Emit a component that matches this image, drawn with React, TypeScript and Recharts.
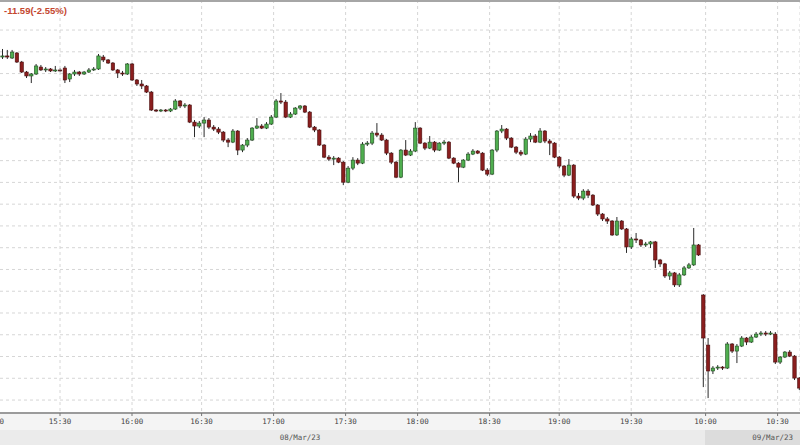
import React from "react";
import { ComposedChart, Bar, XAxis, YAxis, CartesianGrid } from "recharts";

// 2-minute candles, 08/Mar/23 session (from 15:06)
const day1Open = [
  467.52, 467.62, 467.43, 467.89, 467.06, 466.14, 465.78, 465.96, 466.6, 466.33,
  466.42, 466.24, 466.33, 466.51, 465.5, 465.96, 466.14, 465.96, 466.14, 466.33,
  466.42, 467.52, 467.25, 466.97, 466.33, 466.05, 465.96, 466.88, 465.41, 465.04,
  464.86, 464.3, 462.65, 462.56, 462.65, 462.56, 462.74, 463.48, 463.02, 463.11,
  461.54, 461.18, 461.45, 461.73, 461.08, 460.9, 460.62, 459.89, 459.7, 460.72,
  458.97, 459.43, 459.89, 460.99, 461.18, 460.99, 461.36, 462.0, 463.48, 463.38,
  462.0, 462.28, 462.83, 463.02, 462.46, 461.08, 460.81, 459.43, 458.32, 458.14,
  458.23, 457.86, 456.02, 457.31, 458.05, 457.77, 459.52, 459.61, 460.53, 460.35,
  459.89, 458.69, 457.86, 456.48, 458.97, 458.51, 458.88, 460.99, 459.61, 459.15,
  459.7, 458.97, 459.61, 459.7, 458.23, 457.77, 457.4, 458.05, 458.6, 458.88,
  458.69, 457.13, 456.76, 458.97, 460.72, 460.9, 460.07, 459.24, 458.78, 458.6,
  459.98, 460.26, 459.7, 460.72, 459.8, 459.61, 458.32, 457.5, 456.67, 457.59,
  454.74, 454.56, 455.2, 454.83, 453.92, 453.09, 452.64, 452.45, 451.17, 452.45,
  451.72, 450.07, 450.8, 450.71, 450.25, 450.34, 450.53, 448.87, 448.51, 447.4,
  447.68, 446.58, 447.5, 448.14, 448.42, 450.25,
];
const day1High = [
  468.26, 468.17, 468.17, 467.98, 467.16, 466.24, 466.05, 466.88, 466.79, 466.6,
  466.51, 466.7, 466.51, 466.7, 466.05, 466.33, 466.24, 466.24, 466.51, 466.6,
  467.8, 467.71, 467.34, 467.06, 466.42, 466.24, 466.97, 466.97, 465.5, 465.41,
  464.95, 464.4, 462.74, 462.74, 462.74, 462.83, 463.66, 463.57, 463.29, 463.2,
  461.73, 461.64, 462.0, 461.91, 461.27, 461.08, 460.72, 460.07, 460.9, 460.81,
  459.52, 460.07, 461.08, 461.91, 461.36, 461.54, 462.19, 463.66, 464.21, 463.57,
  462.46, 462.92, 463.11, 463.11, 462.56, 461.18, 460.9, 459.52, 458.51, 458.42,
  458.32, 457.96, 457.5, 458.32, 458.23, 459.7, 459.8, 460.72, 461.45, 460.53,
  459.98, 458.78, 457.96, 459.06, 459.89, 459.06, 461.54, 461.08, 459.7, 460.26,
  459.8, 459.7, 459.89, 459.8, 458.32, 457.86, 458.14, 458.78, 459.06, 458.97,
  458.78, 457.31, 459.06, 460.81, 461.27, 460.99, 460.16, 459.34, 458.97, 460.16,
  460.53, 460.44, 460.99, 460.81, 459.98, 459.7, 458.42, 457.59, 458.14, 457.68,
  455.02, 455.38, 455.38, 454.92, 454.01, 453.18, 452.82, 452.54, 452.82, 452.54,
  451.81, 450.98, 451.35, 450.8, 450.53, 450.62, 450.62, 448.97, 448.6, 447.86,
  447.77, 447.68, 448.32, 448.6, 451.81, 450.34,
];
const day1Low = [
  467.34, 467.34, 467.34, 466.97, 466.05, 465.59, 465.13, 465.87, 466.24, 466.14,
  466.14, 466.14, 466.14, 465.13, 465.22, 465.78, 465.78, 465.87, 466.05, 466.24,
  466.33, 467.06, 466.88, 466.24, 465.59, 465.78, 465.87, 465.32, 464.86, 464.58,
  464.21, 462.56, 462.46, 462.46, 462.46, 462.46, 462.65, 462.83, 462.83, 461.45,
  460.16, 460.99, 460.16, 460.9, 460.72, 460.44, 459.7, 459.24, 459.61, 458.51,
  458.78, 459.24, 459.8, 460.9, 460.9, 460.9, 461.27, 461.91, 463.2, 461.91,
  461.91, 462.19, 462.65, 462.37, 460.99, 460.62, 459.34, 458.23, 457.96, 457.59,
  457.77, 455.75, 455.93, 457.13, 457.59, 457.68, 459.34, 459.43, 460.16, 459.8,
  458.51, 457.68, 456.39, 456.39, 458.42, 458.42, 458.78, 459.52, 458.97, 459.06,
  458.78, 458.88, 459.43, 458.14, 457.68, 456.02, 457.31, 457.96, 458.51, 458.6,
  457.04, 456.58, 456.67, 458.78, 460.53, 459.89, 459.15, 458.6, 458.42, 458.51,
  459.7, 459.61, 459.61, 459.61, 458.51, 458.23, 457.31, 456.48, 456.58, 454.56,
  454.37, 454.37, 454.56, 453.83, 452.91, 452.45, 452.18, 451.08, 451.08, 451.63,
  449.52, 449.88, 450.43, 450.07, 450.07, 449.97, 448.14, 448.23, 447.22, 447.04,
  446.39, 446.39, 447.4, 448.05, 448.32, 449.24,
];
const day1Close = [
  467.62, 467.52, 467.98, 467.06, 466.14, 465.78, 465.96, 466.7, 466.33, 466.42,
  466.24, 466.33, 466.33, 465.41, 465.96, 466.14, 465.96, 466.14, 466.33, 466.42,
  467.62, 467.25, 466.97, 466.33, 466.05, 465.96, 466.88, 465.41, 465.04, 464.86,
  464.3, 462.65, 462.56, 462.65, 462.56, 462.74, 463.48, 463.02, 463.11, 461.54,
  461.18, 461.45, 461.73, 461.08, 460.9, 460.62, 459.89, 459.7, 460.72, 458.97,
  459.43, 459.89, 460.99, 461.18, 460.99, 461.36, 462.0, 463.48, 463.38, 462.0,
  462.28, 462.83, 463.02, 462.46, 461.08, 460.81, 459.43, 458.32, 458.14, 458.23,
  457.86, 456.02, 457.31, 458.05, 457.77, 459.52, 459.61, 460.53, 460.35, 459.89,
  458.69, 457.86, 456.48, 458.97, 458.51, 458.88, 460.99, 459.61, 459.15, 459.7,
  458.97, 459.61, 459.7, 458.23, 457.77, 457.4, 458.05, 458.6, 458.88, 458.69,
  457.13, 456.76, 458.97, 460.72, 460.9, 460.07, 459.24, 458.78, 458.6, 459.98,
  460.26, 459.7, 460.72, 459.8, 459.61, 458.32, 457.5, 456.67, 457.59, 454.74,
  454.56, 455.2, 454.83, 453.92, 453.09, 452.64, 452.45, 451.17, 452.45, 451.72,
  450.07, 450.8, 450.71, 450.25, 450.34, 450.53, 448.87, 448.51, 447.4, 447.68,
  446.58, 447.5, 448.14, 448.42, 450.25, 449.33,
];

// 2-minute candles, 09/Mar/23 session (from 10:00)
const day2Open = [
  445.65, 441.05, 438.67, 438.94, 439.03, 438.94, 441.15, 440.5, 440.96, 441.7,
  441.33, 441.79, 442.06, 442.16, 442.06, 442.06, 439.49, 439.95, 440.41, 440.04,
  438.02,
];
const day2High = [
  445.74, 441.7, 439.12, 439.21, 439.12, 441.33, 441.24, 441.15, 441.88, 441.79,
  441.97, 442.25, 442.34, 442.34, 442.34, 442.25, 440.04, 440.5, 440.59, 440.13,
  438.11,
];
const day2Low = [
  437.19, 436.18, 438.39, 438.76, 438.76, 438.85, 440.32, 439.4, 440.87, 441.05,
  441.24, 441.7, 441.88, 441.88, 441.97, 439.31, 439.31, 439.86, 439.95, 437.84,
  436.92,
];
const day2Close = [
  441.7, 438.67, 438.94, 439.03, 438.94, 441.15, 440.5, 440.96, 441.7, 441.33,
  441.79, 442.06, 442.16, 442.06, 442.16, 439.49, 439.95, 440.41, 440.04, 438.02,
  437.1,
];

// x axis is a trading-minute index (overnight gap removed)
const day1Start = 6;
const day2Start = 298;
const barStep = 2;

const tickMinutes = [2, 30, 60, 89, 119, 149, 179, 209, 238, 268, 299, 329];
const tickLabels = ["15:00", "15:30", "16:00", "16:30", "17:00", "17:30", "18:00", "18:30", "19:00", "19:30", "10:00", "10:30"];
const gridPrices = [436, 438, 440, 442, 444, 446, 448, 450, 452, 454, 456, 458, 460, 462, 464, 466, 468, 470];
const dayLabels = ["08/Mar/23", "09/Mar/23"];
const changeLabel = "-11.59(-2.55%)";

type Candle = { m: number; open: number; high: number; low: number; close: number };

const candles: Candle[] = [
  ...day1Open.map((open, i) => ({
    m: day1Start + i * barStep,
    open,
    high: day1High[i],
    low: day1Low[i],
    close: day1Close[i],
  })),
  ...day2Open.map((open, i) => ({
    m: day2Start + i * barStep,
    open,
    high: day2High[i],
    low: day2Low[i],
    close: day2Close[i],
  })),
];

const CandleShape = (props: any) => {
  const { x = 0, y = 0, width = 0, height = 0, payload } = props;
  if (!payload) return null;
  const { open, high, low, close } = payload as Candle;
  const top = Math.min(y, y + height);
  const span = Math.abs(height);
  const k = high === low ? 0 : span / (high - low);
  const cx = x + width / 2;
  const oy = top + (high - open) * k;
  const cy = top + (high - close) * k;
  const up = close > open;
  const flat = open === close;
  const bodyTop = Math.min(oy, cy);
  const bodyH = Math.max(Math.abs(oy - cy), 1);
  return (
    <g>
      <line x1={cx} x2={cx} y1={top} y2={top + span} stroke={flat ? "#8a8a8a" : "#2b2b2b"} strokeWidth={1} />
      <rect
        x={cx - 1.7}
        y={bodyTop}
        width={3.4}
        height={bodyH}
        fill={flat ? "#555" : up ? "#4fae4f" : "#8a1e1e"}
        stroke={up ? "#1f4a1f" : "#4a0f0f"}
        strokeWidth={0.6}
      />
    </g>
  );
};

const axisFont = { fontSize: 7.5, fontFamily: "DejaVu Sans Mono", fill: "#444" };

export default function App() {
  return (
    <div
      style={{
        position: "absolute",
        left: 0,
        top: 0,
        width: 800,
        height: 445,
        overflow: "hidden",
        background: "#fff",
      }}
    >
      <div style={{ position: "absolute", left: 0, top: 414, width: 800, height: 16, background: "#f4f4f4" }} />
      <div style={{ position: "absolute", left: 0, top: 430, width: 800, height: 15, background: "#ebebeb" }} />
      <div style={{ position: "absolute", left: 705, top: 430, width: 95, height: 15, background: "#dcdcdc" }} />

      <div style={{ position: "absolute", left: -24, top: 0 }}>
        <ComposedChart
          width={824}
          height={445}
          data={candles}
          margin={{ top: 0, right: 0, bottom: 0, left: 0 }}
        >
          <CartesianGrid stroke="#d6d6d6" strokeDasharray="3 3" horizontalValues={gridPrices} />
          <XAxis
            dataKey="m"
            type="number"
            domain={[-5, 338.33]}
            allowDataOverflow
            ticks={tickMinutes}
            interval={0}
            tickFormatter={(v) => tickLabels[tickMinutes.indexOf(v)] ?? ""}
            height={32}
            axisLine={{ stroke: "#9b9b9b", strokeWidth: 2 }}
            tickLine={{ stroke: "#777" }}
            tickSize={3}
            tickMargin={3}
            tick={axisFont}
          />
          <YAxis
            type="number"
            domain={[434.81, 472.76]}
            allowDataOverflow
            ticks={gridPrices}
            interval={0}
            width={0}
            tick={{ fontSize: 1, fill: "transparent" }}
            axisLine={false}
            tickLine={false}
          />
          <Bar
            dataKey={(d: Candle) => [d.low, d.high]}
            barSize={3}
            shape={(p: any) => <CandleShape {...p} />}
            isAnimationActive={false}
          />
        </ComposedChart>
      </div>

      <div style={{ position: "absolute", left: 0, top: 0, width: 800, height: 2, background: "#a6a6a6" }} />
      <div
        style={{
          position: "absolute",
          left: 4,
          top: 5,
          lineHeight: "11px",
          fontFamily: "Liberation Sans, Arial, sans-serif",
          fontWeight: 700,
          fontSize: 9.5,
          color: "#c4472f",
          whiteSpace: "nowrap",
        }}
      >
        {changeLabel}
      </div>
      <div
        style={{
          position: "absolute",
          left: 250,
          width: 100,
          top: 432,
          lineHeight: "11px",
          textAlign: "center",
          fontFamily: "DejaVu Sans Mono",
          fontSize: 7.5,
          color: "#555",
        }}
      >
        {dayLabels[0]}
      </div>
      <div
        style={{
          position: "absolute",
          right: 7,
          top: 432,
          lineHeight: "11px",
          fontFamily: "DejaVu Sans Mono",
          fontSize: 7.5,
          color: "#555",
        }}
      >
        {dayLabels[1]}
      </div>
    </div>
  );
}
